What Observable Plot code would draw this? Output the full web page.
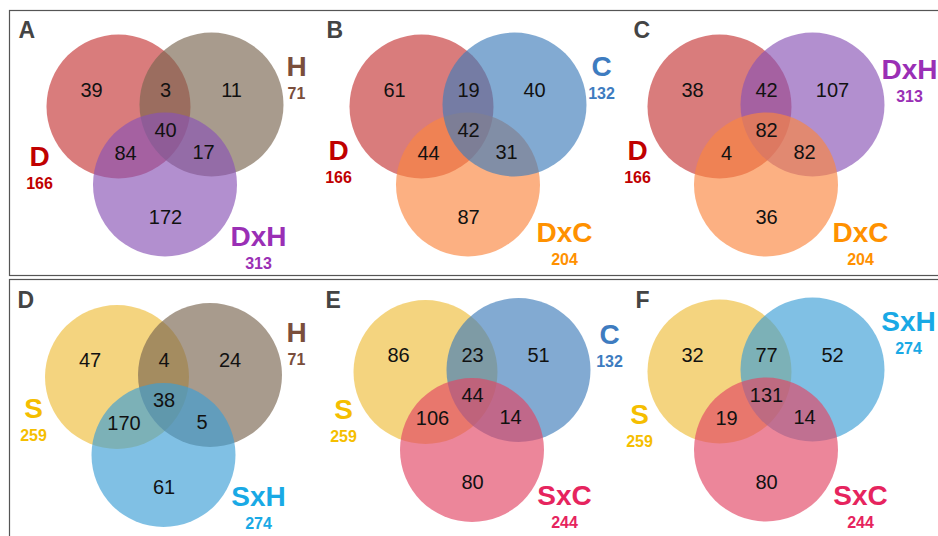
<!DOCTYPE html>
<html><head><meta charset="utf-8">
<script src="https://cdn.jsdelivr.net/npm/d3@7"></script>
<script src="https://cdn.jsdelivr.net/npm/@observablehq/plot@0.6"></script>
<style>
body{margin:0;background:#fff;}
svg{display:block;}
</style>
</head><body><div id="chart"></div>
<script>
// ---------- DATA ----------
const panelLetters = ["A", "B", "C", "D", "E", "F"];
const setNames = [
  ["D", "H", "DxH"],
  ["D", "C", "DxC"],
  ["D", "DxH", "DxC"],
  ["S", "H", "SxH"],
  ["S", "C", "SxC"],
  ["S", "SxH", "SxC"]
];
const setTotals = [
  [166, 71, 313],
  [166, 132, 204],
  [166, 313, 204],
  [259, 71, 274],
  [259, 132, 244],
  [259, 274, 244]
];
// region order: only1, 1∩2, only2, 1∩2∩3, 1∩3, 2∩3, only3
const regionCounts = [
  [39, 3, 11, 40, 84, 17, 172],
  [61, 19, 40, 42, 44, 31, 87],
  [38, 42, 107, 82, 4, 82, 36],
  [47, 4, 24, 38, 170, 5, 61],
  [86, 23, 51, 44, 106, 14, 80],
  [32, 77, 52, 131, 19, 14, 80]
];

// ---------- STYLES ----------
const circleFill = {
  D: "#c53535", H: "#796550", DxH: "#8953b5", C: "#3f7cba", DxC: "#fb853f",
  S: "#eebd3a", SxH: "#3c9ed5", SxC: "#e24564"
};
const labelColor = {
  D: "#c00000", H: "#7a4e3c", DxH: "#9a2fb5", C: "#3e7cc0", DxC: "#ff9100",
  S: "#f5be00", SxH: "#19a9e5", SxC: "#e6245e"
};
const FONT = "Liberation Sans, Arial, sans-serif";

// ---------- LAYOUT ----------
const circleOffsets = [[0, 0], [93, -2], [46.5, 78]];
const regionOffsets = [[-27, -16], [47, -16], [113, -16], [47, 24], [7, 47], [85, 46], [47, 111]];
const panels = [
  {anchor: [118, 106], order: [0, 1, 2], letter: [18, 30], labels: [[-79, 51], [178, -39], [140, 131]]},
  {anchor: [421, 106], order: [0, 2, 1], letter: [326, 30], labels: [[-83, 45], [180, -39], [143, 127]]},
  {anchor: [719, 106], order: [0, 1, 2], letter: [633, 30], labels: [[-82, 45], [190, -36], [141, 127]]},
  {anchor: [116.5, 376.5], order: [0, 1, 2], letter: [17, 300], labels: [[-83.5, 32.5], [179.5, -43.5], [141.5, 120.5]]},
  {anchor: [425, 371.5], order: [0, 1, 2], letter: [325, 300], labels: [[-82, 38.5], [184, -36.5], [139, 124.5]]},
  {anchor: [719, 371], order: [0, 1, 2], letter: [635, 300], labels: [[-80, 44], [189, -49], [141, 125]]}
];
const boxes = [
  {x1: 9.5, y1: 10.5, x2: 950, y2: 275.5},
  {x1: 9.5, y1: 279.5, x2: 950, y2: 550}
];

// ---------- BUILD ROWS ----------
const circles = panels.flatMap((p, i) => p.order.map(k => ({
  x: p.anchor[0] + circleOffsets[k][0],
  y: p.anchor[1] + circleOffsets[k][1],
  fill: circleFill[setNames[i][k]]
})));
const counts = panels.flatMap((p, i) => regionCounts[i].map((v, j) => ({
  x: p.anchor[0] + regionOffsets[j][0],
  y: p.anchor[1] + regionOffsets[j][1],
  text: String(v)
})));
const setLabelRows = panels.flatMap((p, i) => setNames[i].map((name, k) => ({
  x: p.anchor[0] + p.labels[k][0],
  y: p.anchor[1] + p.labels[k][1],
  name, total: String(setTotals[i][k]), color: labelColor[name]
})));
const letters = panels.map((p, i) => ({x: p.letter[0], y: p.letter[1], text: panelLetters[i]}));

const chart = Plot.plot({
  width: 938, height: 536, margin: 0,
  x: {domain: [0, 938], range: [0, 938], axis: null},
  y: {domain: [0, 536], range: [0, 536], axis: null},
  color: {type: "identity"},
  style: {fontFamily: FONT, background: "#fff"},
  marks: [
    Plot.rect(boxes, {x1: "x1", x2: "x2", y1: "y1", y2: "y2", fill: "none", stroke: "#555", strokeWidth: 1.2}),
    Plot.dot(circles, {x: "x", y: "y", r: 72, fill: "fill", fillOpacity: 0.65, stroke: "none"}),
    Plot.text(counts, {x: "x", y: "y", text: "text", fontSize: 20, fill: "#111", fontFamily: FONT}),
    Plot.text(setLabelRows, {x: "x", y: "y", text: "name", fill: "color", fontSize: 28, fontWeight: "bold", fontFamily: FONT}),
    Plot.text(setLabelRows, {x: "x", y: d => d.y + 26, text: "total", fill: "color", fontSize: 16, fontWeight: "bold", fontFamily: FONT}),
    Plot.text(letters, {x: "x", y: "y", text: "text", textAnchor: "start", fill: "#444", fontSize: 23, fontWeight: "bold", fontFamily: FONT})
  ]
});
document.getElementById("chart").appendChild(chart);
</script>
</body></html>
